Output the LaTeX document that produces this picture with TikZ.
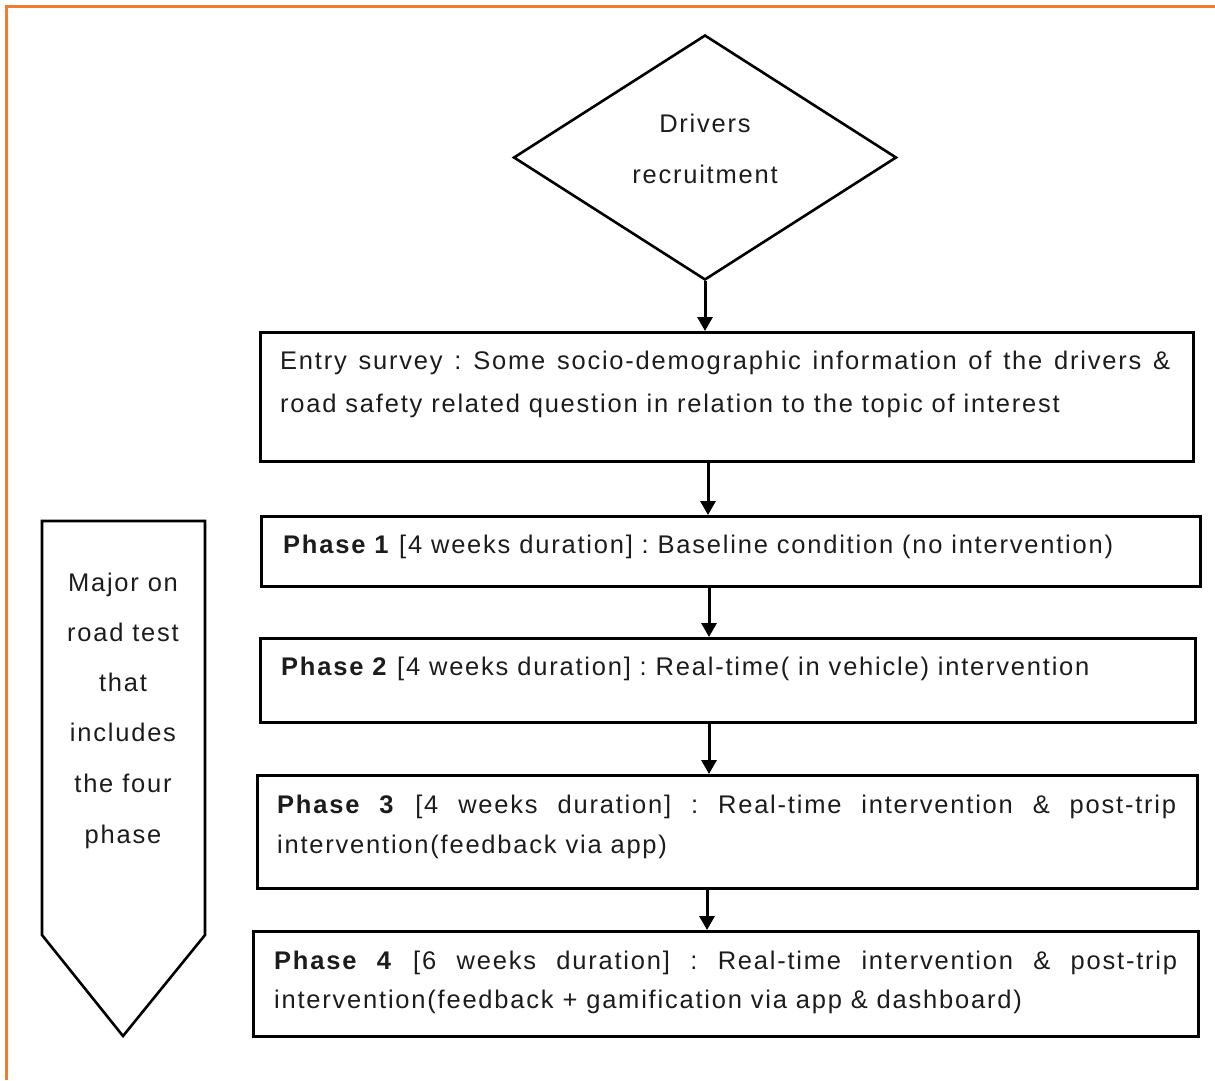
\documentclass[tikz,border=0pt]{standalone}
\usepackage{fontspec}
\setmainfont{Liberation Sans}[LetterSpace=7]
\frenchspacing
\usetikzlibrary{arrows.meta,shapes.geometric}
\definecolor{frameorange}{RGB}{243,124,44}
\definecolor{ink}{RGB}{28,28,28}
\begin{document}
\begin{tikzpicture}[x=1pt,y=-1pt,
  box/.style={draw=black,line width=2.6pt,rectangle,inner sep=0pt,anchor=north west},
  txt/.style={inner sep=0pt,text=ink,font=\fontsize{25.5}{30}\selectfont},
  flow/.style={draw=black,line width=3pt,-{Triangle[width=15pt,length=14pt]}}]
\useasboundingbox (0,0) rectangle (1215,1080);

% page frame
\draw[frameorange,line width=3pt] (6,1080) -- (6,6) -- (1215,6);

% start diamond
\node[draw=black,diamond,line width=2.6pt,minimum width=383pt,minimum height=245pt,inner sep=0pt]
  (recruit) at (705,157.5) {};
\node[txt,anchor=base] (recruitA) at (705,132) {Drivers};
\node[txt,anchor=base] (recruitB) at (705,183) {recruitment};

% stage boxes
\node[box,minimum width=933pt,minimum height=129pt] (entry) at (259,331) {};
\node[box,minimum width=939pt,minimum height=70pt]  (p1) at (260,515) {};
\node[box,minimum width=935pt,minimum height=84pt]  (p2) at (259,637) {};
\node[box,minimum width=940pt,minimum height=113pt] (p3) at (256,774) {};
\node[box,minimum width=945pt,minimum height=105pt] (p4) at (252,930) {};

% box texts
\node[txt,anchor=base west] (entryA) at (280,369)
  {\makebox[890pt][s]{Entry survey : Some socio-demographic information of the drivers \&}};
\node[txt,anchor=base west] (entryB) at (280,412)
  {road safety related question in relation to the topic of interest};
\node[txt,anchor=base west] (p1A) at (283,553)
  {\textbf{Phase 1} [4 weeks duration] : Baseline condition (no intervention)};
\node[txt,anchor=base west] (p2A) at (281,675)
  {\textbf{Phase 2} [4 weeks duration] : Real-time( in vehicle) intervention};
\node[txt,anchor=base west] (p3A) at (277,813)
  {\makebox[899pt][s]{\textbf{Phase 3} [4 weeks duration] : Real-time intervention \& post-trip}};
\node[txt,anchor=base west] (p3B) at (277,853)
  {intervention(feedback via app)};
\node[txt,anchor=base west] (p4A) at (274,969)
  {\makebox[903pt][s]{\textbf{Phase 4} [6 weeks duration] : Real-time intervention \& post-trip}};
\node[txt,anchor=base west] (p4B) at (274,1008)
  {intervention(feedback + gamification via app \& dashboard)};

% side arrow shape
\draw[black,line width=2.6pt,line join=miter]
  (42,521) -- (205,521) -- (205,935) -- (123,1036) -- (42,935) -- cycle;
\node[txt,anchor=base] (sideA) at (123,591) {Major on};
\node[txt,anchor=base] (sideB) at (123,641) {road test};
\node[txt,anchor=base] (sideC) at (123,691) {that};
\node[txt,anchor=base] (sideD) at (123,741) {includes};
\node[txt,anchor=base] (sideE) at (123,792) {the four};
\node[txt,anchor=base] (sideF) at (123,843) {phase};

% connectors
\coordinate (xa) at (708,0);
\coordinate (xb) at (709,0);
\coordinate (xc) at (707,0);
\draw[flow] (recruit.south) -- (recruit.south |- entry.north);
\draw[flow] (entry.south -| xa) -- (p1.north -| xa);
\draw[flow] (p1.south -| xb) -- (p2.north -| xb);
\draw[flow] (p2.south -| xb) -- (p3.north -| xb);
\draw[flow] (p3.south -| xc) -- (p4.north -| xc);
\end{tikzpicture}
\end{document}
